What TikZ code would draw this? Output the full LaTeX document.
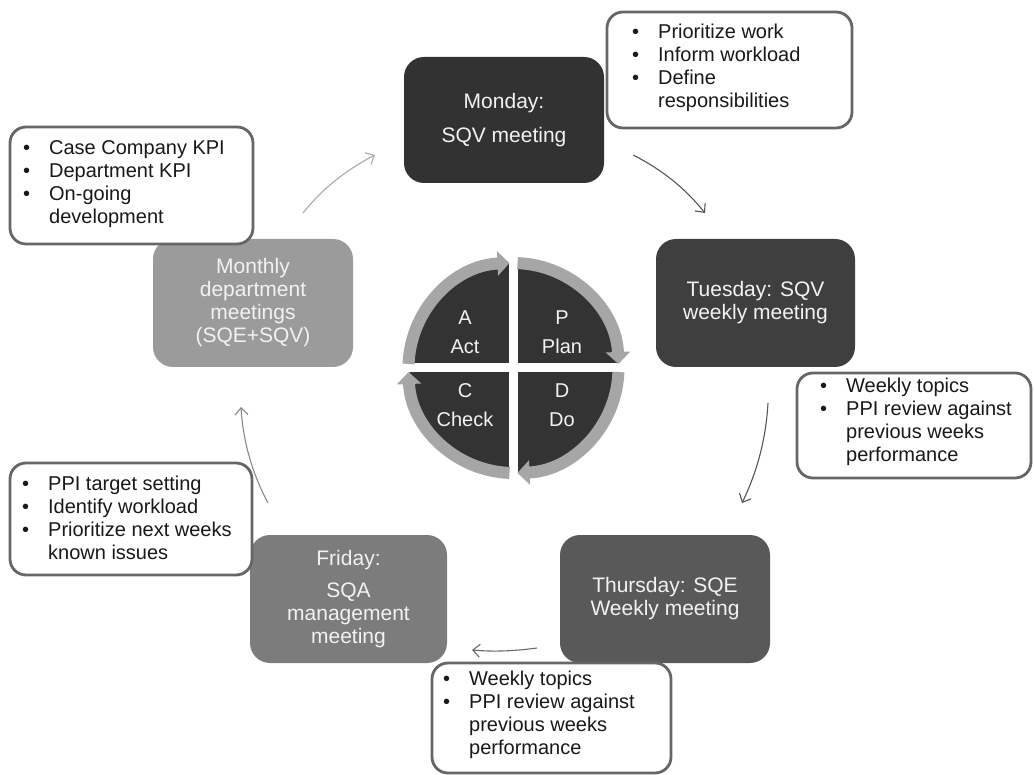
\documentclass[tikz,border=0pt]{standalone}
\usepackage{fontspec}
\setmainfont{Liberation Sans}
\usetikzlibrary{arrows.meta}

\definecolor{mondayfill}{HTML}{323232}
\definecolor{tuesdayfill}{HTML}{3F3F3F}
\definecolor{thursdayfill}{HTML}{595959}
\definecolor{fridayfill}{HTML}{7C7C7C}
\definecolor{monthlyfill}{HTML}{9B9B9B}
\definecolor{notegray}{HTML}{666666}
\definecolor{ringgray}{HTML}{A6A6A6}
\definecolor{quadfill}{HTML}{333333}
\definecolor{flowA}{HTML}{555555}
\definecolor{flowB}{HTML}{6A6A6A}
\definecolor{flowC}{HTML}{888888}
\definecolor{flowD}{HTML}{A8A8A8}
\definecolor{boxtext}{HTML}{F2F2F2}

\tikzset{
  meet/.style={rounded corners=20pt, text=boxtext, align=center,
    font=\fontsize{21}{23}\selectfont, inner sep=0pt},
  note/.style={draw=notegray, line width=2.8pt, fill=white, rounded corners=16pt, inner sep=0pt},
  notetext/.style={anchor=west, align=left, inner sep=0pt,
    font=\fontsize{20}{23}\selectfont, text=black!90},
  flow/.style={line width=1.1pt, -{Straight Barb[length=7pt,width=13pt]}},
  ring/.style={draw=ringgray, line width=12pt, -{Triangle[width=24pt,length=12pt]}},
  quadlabel/.style={text=boxtext, align=center, font=\fontsize{20}{23}\selectfont, inner sep=0pt},
}
\newcommand\bul{\makebox[26pt][l]{\textbullet}}
\newcommand\ind{\hspace*{26pt}}

\begin{document}
\begin{tikzpicture}[x=1pt, y=-1pt]
  \useasboundingbox (0,0) rectangle (1034,775);

  % ---- cycle connectors ----
  \coordinate (f1s) at (633,155); \coordinate (f1e) at (705,213);
  \coordinate (f2s) at (768,403); \coordinate (f2e) at (742,503);
  \coordinate (f3s) at (537,648); \coordinate (f3e) at (472,650);
  \coordinate (f4s) at (268,503); \coordinate (f4e) at (241,407);
  \coordinate (f5s) at (303,213); \coordinate (f5e) at (375,155);
  \draw[flow, draw=flowA] (f1s) .. controls (661,169) and (685,188) .. (f1e);
  \draw[flow, draw=flowA] (f2s) .. controls (766,439) and (757,472) .. (f2e);
  \draw[flow, draw=flowB] (f3s) .. controls (515,651) and (494,652) .. (f3e);
  \draw[flow, draw=flowC] (f4s) .. controls (252,473) and (243,441) .. (f4e);
  \draw[flow, draw=flowD] (f5s) .. controls (322,189) and (346,170) .. (f5e);

  % ---- meeting boxes ----
  \node[meet, fill=mondayfill, minimum width=200pt, minimum height=126pt] (monday)
    at (504,120) {Monday:\\[11pt]SQV meeting};
  \node[meet, fill=tuesdayfill, minimum width=199pt, minimum height=128pt] (tuesday)
    at (755.5,303) {Tuesday: SQV\\weekly meeting};
  \node[meet, fill=thursdayfill, minimum width=210pt, minimum height=128pt] (thursday)
    at (665,599) {Thursday: SQE\\Weekly meeting};
  \node[meet, fill=fridayfill, minimum width=197pt, minimum height=128pt] (friday)
    at (348.5,599) {Friday:\\[9pt]SQA\\management\\meeting};
  \node[meet, fill=monthlyfill, minimum width=200pt, minimum height=128pt] (monthly)
    at (253,303) {Monthly\\department\\meetings\\(SQE+SQV)};

  % ---- note boxes ----
  \node[note, minimum width=245pt, minimum height=116pt] (mondaynote) at (729.5,70) {};
  \node[notetext] (mondaytext) at (632,68)
    {\bul Prioritize work\\\bul Inform workload\\\bul Define\\\ind responsibilities};

  \node[note, minimum width=234pt, minimum height=105pt] (tuesdaynote) at (914,425.5) {};
  \node[notetext] (tuesdaytext) at (820,421.5)
    {\bul Weekly topics\\\bul PPI review against\\\ind previous weeks\\\ind performance};

  \node[note, minimum width=239pt, minimum height=110pt] (thursdaynote) at (551.5,718) {};
  \node[notetext] (thursdaytext) at (443,715)
    {\bul Weekly topics\\\bul PPI review against\\\ind previous weeks\\\ind performance};

  \node[note, minimum width=242pt, minimum height=112pt] (fridaynote) at (131,519) {};
  \node[notetext] (fridaytext) at (22,518)
    {\bul PPI target setting\\\bul Identify workload\\\bul Prioritize next weeks\\\ind known issues};

  \node[note, minimum width=243pt, minimum height=117pt] (monthlynote) at (131.5,185.5) {};
  \node[notetext] (monthlytext) at (23,184)
    {\bul Case Company KPI\\\bul Department KPI\\\bul On-going\\\ind development};

  % ---- PDCA wheel ----
  \coordinate (pc) at (513.5,368);
  \fill[quadfill] (pc) circle[radius=104];
  \draw[white, line width=9pt] (pc) ++(-115,0) -- ++(230,0);
  \draw[white, line width=9pt] (pc) ++(0,-115) -- ++(0,230);
  \draw[ring] (pc) ++(-177.8:105) arc[start angle=-177.8, end angle=-92.2, radius=105];
  \draw[ring] (pc) ++(-87.8:105) arc[start angle=-87.8, end angle=-2.2, radius=105];
  \draw[ring] (pc) ++(2.2:105) arc[start angle=2.2, end angle=87.8, radius=105];
  \draw[ring] (pc) ++(92.2:105) arc[start angle=92.2, end angle=177.8, radius=105];

  \node[quadlabel] (act) at (465,332) {A\\[6pt]Act};
  \node[quadlabel] (plan) at (562,332) {P\\[6pt]Plan};
  \node[quadlabel] (check) at (465,405) {C\\[6pt]Check};
  \node[quadlabel] (do) at (562,405) {D\\[6pt]Do};
\end{tikzpicture}
\end{document}
